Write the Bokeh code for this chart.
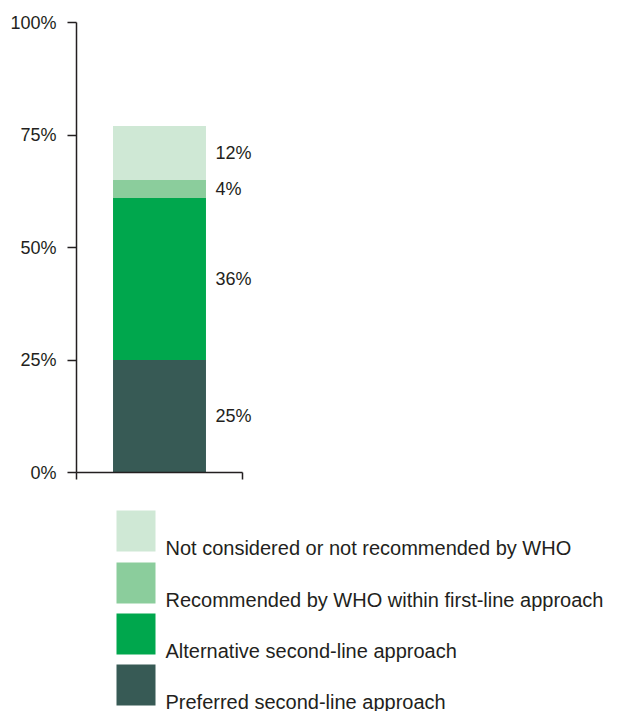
from bokeh.plotting import figure
from bokeh.layouts import column
from bokeh.models import ColumnDataSource, LinearAxis, FixedTicker, Range1d
from bokeh.core.properties import value
from bokeh.embed import file_html
from bokeh.resources import INLINE

# ---- data ----
series = ["Preferred second-line approach",
          "Alternative second-line approach",
          "Recommended by WHO within first-line approach",
          "Not considered or not recommended by WHO"]
values = [25, 36, 4, 12]
labels = ["25%", "36%", "4%", "12%"]
colors = ["#375a55", "#00a74d", "#8bcd9c", "#cfe8d5"]
tick_values = [0, 25, 50, 75, 100]
tick_labels = ["0%", "25%", "50%", "75%", "100%"]

# ---- layout constants (pixels) ----
W = 634
H1 = 500
H2 = 211
LEFT = 76
TOP = 22
ZERO_PX = 472
AXIS_W_PX = 166
INK = "#231f20"
FONT = "Liberation Sans"

p = figure(width=W, height=H1, output_backend="svg", toolbar_location=None,
           x_axis_location=None, y_axis_location=None,
           min_border_left=LEFT, min_border_right=0, min_border_top=TOP,
           min_border_bottom=H1 - ZERO_PX,
           x_range=Range1d(0, (W - LEFT) / AXIS_W_PX),
           y_range=Range1d(0, 100))
p.outline_line_color = None
p.xgrid.visible = False
p.ygrid.visible = False

yaxis = LinearAxis(bounds=(0, 100), ticker=FixedTicker(ticks=tick_values),
                   major_label_overrides={v: l for v, l in zip(tick_values, tick_labels)},
                   major_tick_in=0, major_tick_out=9, minor_tick_in=0, minor_tick_out=0,
                   major_label_standoff=11, axis_line_width=1.5, axis_line_color=INK,
                   major_tick_line_width=1.5, major_tick_line_color=INK,
                   major_label_text_font=FONT,
                   major_label_text_font_size="18px", major_label_text_color=INK)
p.add_layout(yaxis, "left")

xaxis = LinearAxis(bounds=(0, 1), ticker=FixedTicker(ticks=[0, 1]),
                   major_label_overrides={0: "", 1: ""},
                   major_tick_in=0, major_tick_out=7, minor_tick_in=0, minor_tick_out=0,
                   axis_line_width=1.5, axis_line_color=INK,
                   major_tick_line_width=1.5, major_tick_line_color=INK,
                   major_label_text_font_size="1px", major_label_standoff=0)
p.add_layout(xaxis, "below")

# stacked bar
data = {"x": [0.5]}
for s, v in zip(series, values):
    data[s] = [v]
src = ColumnDataSource(data)
p.vbar_stack(series, x="x", width=0.56, color=colors, line_color=None, source=src)

# value labels
cum = []
acc = 0
for v in values:
    cum.append(acc + v / 2)
    acc += v
p.text(x=[0.837] * len(values), y=cum, text=labels,
       text_font=value(FONT), text_font_size="18px",
       text_color=INK, text_align="left", text_baseline="middle")

# ---- legend figure (pixel coordinates, y downward) ----
q = figure(width=W, height=H2, output_backend="svg", toolbar_location=None,
           x_axis_location=None, y_axis_location=None,
           min_border_left=LEFT, min_border_right=0, min_border_top=0, min_border_bottom=0,
           x_range=Range1d(LEFT, W), y_range=Range1d(H2, 0))
q.outline_line_color = None
q.xgrid.visible = False
q.ygrid.visible = False

leg_series = series[::-1]
leg_colors = colors[::-1]
top_px = [10, 62, 113, 164]
sq_h = 41
q.rect(x=[135.5] * 4, y=[t + sq_h / 2 for t in top_px], width=39, height=sq_h,
       color=leg_colors, line_color=None)
q.text(x=[165] * 4, y=[t + sq_h - 4 for t in top_px], text=leg_series,
       text_font=value(FONT), text_font_size="20px",
       text_color=INK, text_align="left", text_baseline="alphabetic")

layout = column(p, q, spacing=0)
open("out.html", "w").write(file_html(layout, INLINE))
